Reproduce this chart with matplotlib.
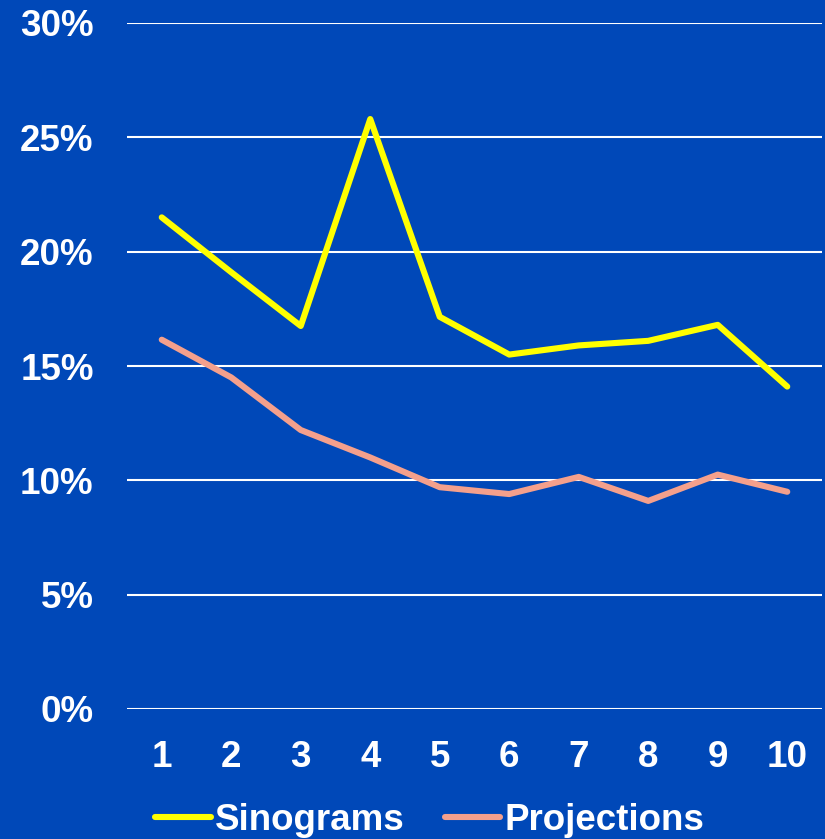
import matplotlib
matplotlib.use('Agg')
import matplotlib.pyplot as plt
from matplotlib.ticker import FuncFormatter

plt.rcParams['font.family'] = ['Liberation Sans', 'DejaVu Sans']
plt.rcParams['font.weight'] = 'bold'

# 数据
runs = [1, 2, 3, 4, 5, 6, 7, 8, 9, 10]
sinograms = [21.5, 19.1, 16.75, 25.8, 17.15, 15.5, 15.9, 16.1, 16.8, 14.1]
projections = [16.15, 14.5, 12.2, 11.0, 9.7, 9.4, 10.15, 9.1, 10.25, 9.5]
yticks = [0, 5, 10, 15, 20, 25, 30]

bg = '#0048B8'

fig = plt.figure(figsize=(8.25, 8.39), dpi=100, facecolor=bg)
ax = fig.add_axes([127 / 825, 1 - 709 / 839, (822 - 127) / 825, (709 - 23) / 839])
ax.set_facecolor(bg)

ax.plot(runs, sinograms, color='#FFFF00', lw=4.4, solid_capstyle='round',
        solid_joinstyle='round', label='Sinograms', zorder=3)
ax.plot(runs, projections, color='#F4A08C', lw=4.4, solid_capstyle='round',
        solid_joinstyle='round', label='Projections', zorder=3)

ax.set_xlim(0.5, 10.5)
ax.set_ylim(0, 30)
ax.set_xticks(runs)
ax.set_yticks(yticks)
ax.yaxis.set_major_formatter(FuncFormatter(lambda v, p: f'{v:.0f}%'))
ax.grid(axis='y', color='white', lw=1.5, zorder=1)
ax.set_axisbelow(True)
for s in ax.spines.values():
    s.set_visible(False)
ax.tick_params(axis='y', length=0, pad=24, labelsize=26.5, labelcolor='white')
ax.tick_params(axis='x', length=0, pad=22, labelsize=26.5, labelcolor='white')

leg = fig.legend(loc='center', bbox_to_anchor=(430 / 825, 1 - 820 / 839), ncol=2,
                 frameon=False, fontsize=26.5, handlelength=1.5, handletextpad=0.12,
                 columnspacing=1.1, borderaxespad=0)
for t in leg.get_texts():
    t.set_color('white')

fig.savefig('out.png', dpi=100, facecolor=bg)
